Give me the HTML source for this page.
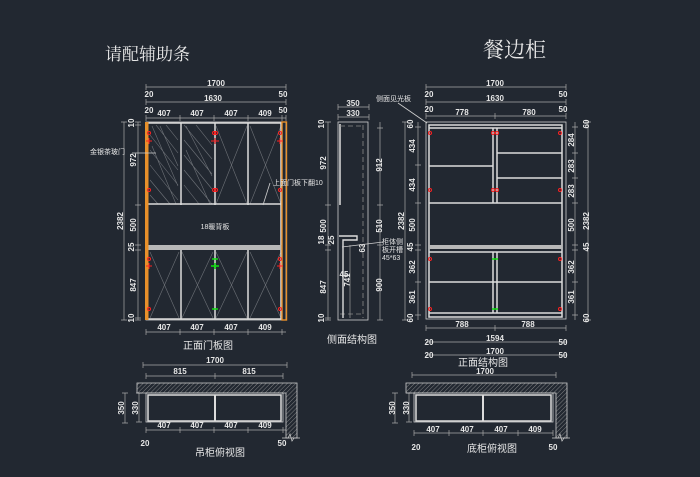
<!DOCTYPE html>
<html><head><meta charset="utf-8"><style>
html,body{margin:0;padding:0;background:#222831;}
svg{display:block}
text{font-family:"Liberation Sans","Noto Sans CJK SC",sans-serif;fill:#e6e6e6}
.d{font-size:8px;font-weight:bold}
.c{font-size:7px;font-family:"Liberation Sans","Noto Sans CJK SC",sans-serif}
.t{font-size:10px}
.dl{stroke:#a8a8a8;stroke-width:0.7;fill:none}
.w{stroke:#dcdcdc;stroke-width:1.5;fill:none}
.wt{stroke:#cfcfcf;stroke-width:0.8;fill:none}
.g{stroke:#6e7278;stroke-width:0.6;fill:none}
.r{stroke:#ff2020;stroke-width:1;fill:none}
.gr{stroke:#10e010;stroke-width:1.5;fill:none}
</style></head><body>
<svg width="700" height="477" viewBox="0 0 700 477" xmlns="http://www.w3.org/2000/svg">
<defs>
<pattern id="h" width="3" height="3" patternUnits="userSpaceOnUse" patternTransform="rotate(45)">
<line x1="0" y1="0" x2="0" y2="3" stroke="#9a9a9a" stroke-width="0.8"/></pattern>
</defs>
<!-- titles -->
<text x="105" y="60" style="font-size:17px;font-family:'Noto Serif CJK SC','Noto Sans CJK SC',serif" fill="#e0e0e0">请配辅助条</text>
<text x="483" y="57" style="font-size:21px;font-family:'Noto Serif CJK SC','Noto Sans CJK SC',serif" fill="#e0e0e0">餐边柜</text>

<!-- ===== LEFT: front door view ===== -->
<g class="dl">
<line x1="146" y1="118" x2="286" y2="118"/>
<line x1="146" y1="87" x2="286" y2="87"/><line x1="146" y1="102" x2="286" y2="102"/>
<line x1="146" y1="332" x2="286" y2="332"/>
<line x1="124" y1="122" x2="124" y2="320"/><line x1="138" y1="122" x2="138" y2="320"/>
<path d="M146 84v6M286 84v6M146 99v6M286 99v6M146 115v6M180 115v6M214 115v6M248 115v6M282 115v6M286 115v6M146 329v6M180 329v6M214 329v6M248 329v6M282 329v6M121 122h6M121 320h6M135 122h6M135 125h6M135 205h6M135 245h6M135 250h6M135 318h6M135 320h6"/>
</g>
<g class="d" text-anchor="middle">
<text x="216" y="86">1700</text><text x="149" y="97">20</text><text x="283" y="97">50</text>
<text x="213" y="101">1630</text><text x="149" y="113">20</text><text x="283" y="113">50</text>
<text x="164" y="116">407</text><text x="197" y="116">407</text><text x="231" y="116">407</text><text x="265" y="116">409</text>
<text x="164" y="330">407</text><text x="197" y="330">407</text><text x="231" y="330">407</text><text x="265" y="330">409</text>
<text transform="translate(123,221) rotate(-90)">2382</text>
<text transform="translate(134,123) rotate(-90)">10</text>
<text transform="translate(136,160) rotate(-90)">972</text>
<text transform="translate(136,225) rotate(-90)">500</text>
<text transform="translate(134,247) rotate(-90)">25</text>
<text transform="translate(136,285) rotate(-90)">847</text>
<text transform="translate(134,318) rotate(-90)">10</text>
</g>
<!-- hatch on left 2 doors -->
<g class="g">
<path d="M150 135l28 35M150 150l28 35M150 165l28 35M156 125l22 28M166 125l12 15M150 180l20 24M150 195l8 9M184 125l28 34M184 140l28 34M184 155l28 34M184 170l28 34M196 125l16 20M184 185l15 19M152 126l26 60M160 126l18 40M152 146l24 58M186 126l26 50M186 150l24 54"/>
<path d="M216 126l31 78M247 126l-31 78M250 126l31 78M281 126l-31 78M150 252l29 66M179 252l-29 66M182 252l31 66M213 252l-31 66M216 252l31 66M247 252l-31 66M250 252l31 66M281 252l-31 66"/>
</g>
<rect x="146" y="122" width="140" height="198" class="wt"/>
<g class="w">
<line x1="147" y1="123" x2="282" y2="123"/><line x1="147" y1="319" x2="282" y2="319"/>
<line x1="181" y1="123" x2="181" y2="205"/><line x1="215" y1="123" x2="215" y2="205"/><line x1="248" y1="123" x2="248" y2="205"/>
<line x1="181" y1="250" x2="181" y2="319"/><line x1="215" y1="250" x2="215" y2="319"/><line x1="248" y1="250" x2="248" y2="319"/>
<line x1="147" y1="204" x2="282" y2="204"/>
<line x1="281" y1="123" x2="281" y2="319"/>
</g>
<rect x="147" y="245" width="135" height="5" fill="#b8b8b8"/>
<rect x="145" y="122" width="3.5" height="198" fill="#e8902a"/>
<rect x="282" y="122" width="4.5" height="198" fill="none" stroke="#e8902a" stroke-width="1.4"/>
<g class="r">
<circle cx="149" cy="133" r="1.5"/><circle cx="149" cy="190" r="1.5"/><circle cx="149" cy="259" r="1.5"/><circle cx="149" cy="309" r="1.5"/>
<circle cx="280" cy="133" r="1.5"/><circle cx="280" cy="190" r="1.5"/><circle cx="280" cy="259" r="1.5"/><circle cx="280" cy="309" r="1.5"/>
<circle cx="214" cy="133" r="1.5"/><circle cx="216" cy="133" r="1.5"/><circle cx="214" cy="190" r="1.5"/><circle cx="216" cy="190" r="1.5"/>
<path d="M146 141h6M149 138v6M211 141h8M215 138v6M277 141h6M280 138v6M146 266h6M149 263v6M277 266h6M280 263v6"/>
</g>
<g class="gr"><path d="M212 259h6M211 266h8M215 263v6M212 309h6"/></g>
<line x1="132" y1="153" x2="156" y2="153" stroke="#d0d0d0" stroke-width="0.8"/>
<text x="90" y="154" class="c">金银茶玻门</text>
<line x1="270" y1="183" x2="263" y2="205" stroke="#d0d0d0" stroke-width="0.8"/>
<text x="273" y="185" class="c">上面门板下翻10</text>
<text x="215" y="229" class="c" text-anchor="middle">18暖背板</text>
<text x="208" y="349" class="t" text-anchor="middle">正面门板图</text>

<!-- ===== SIDE VIEW ===== -->
<g class="dl">
<line x1="338" y1="107" x2="369" y2="107"/><line x1="338" y1="117" x2="369" y2="117"/>
<line x1="328" y1="122" x2="328" y2="320"/><line x1="380" y1="122" x2="380" y2="320"/>
<path d="M338 104v6M369 104v6M338 114v6M369 114v6M325 122h6M325 320h6M325 205h6M325 245h6M325 250h6M325 318h6M377 128h6M377 205h6M377 245h6M377 320h6"/>
</g>
<rect x="338" y="122" width="30" height="198" class="wt"/>
<line x1="340" y1="124" x2="340" y2="205" stroke="#dcdcdc" stroke-width="1.5"/>
<line x1="363" y1="125" x2="363" y2="318" stroke="#8a8a8a" stroke-width="0.8" stroke-dasharray="5 3"/>
<line x1="340" y1="126" x2="363" y2="126" stroke="#8a8a8a" stroke-width="0.8" stroke-dasharray="5 3"/>
<line x1="340" y1="314" x2="363" y2="314" stroke="#8a8a8a" stroke-width="0.8" stroke-dasharray="5 3"/>
<path d="M339 236h18v4h-14v78" stroke="#dcdcdc" stroke-width="1.4" fill="none"/>
<line x1="350" y1="245" x2="350" y2="318" stroke="#9a9a9a" stroke-width="0.7"/>
<g class="d" text-anchor="middle">
<text x="353" y="106">350</text><text x="353" y="116">330</text>
<text transform="translate(324,124) rotate(-90)">10</text>
<text transform="translate(326,163) rotate(-90)">972</text>
<text transform="translate(326,226) rotate(-90)">500</text>
<text transform="translate(324,240) rotate(-90)">18</text>
<text transform="translate(334,240) rotate(-90)">25</text>
<text transform="translate(326,287) rotate(-90)">847</text>
<text transform="translate(324,318) rotate(-90)">10</text>
<text transform="translate(382,165) rotate(-90)">912</text>
<text transform="translate(382,226) rotate(-90)">510</text>
<text transform="translate(382,285) rotate(-90)">900</text>
<text transform="translate(365,248) rotate(-90)">63</text>
<text transform="translate(350,280) rotate(-90)">741</text>
<text x="344" y="277">45</text>
</g>
<line x1="342" y1="247" x2="383" y2="242" stroke="#d0d0d0" stroke-width="0.8"/>
<text x="382" y="244" class="c">柜体侧</text><text x="382" y="252" class="c">板开槽</text><text x="382" y="260" class="c">45*63</text>
<text x="352" y="343" class="t" text-anchor="middle">侧面结构图</text>

<!-- ===== RIGHT: front structure ===== -->
<g class="dl">
<line x1="426" y1="87" x2="566" y2="87"/><line x1="426" y1="102" x2="566" y2="102"/><line x1="426" y1="116" x2="566" y2="116"/>
<line x1="426" y1="328" x2="566" y2="328"/><line x1="426" y1="342" x2="566" y2="342"/><line x1="426" y1="355" x2="566" y2="355"/>
<line x1="405" y1="122" x2="405" y2="320"/><line x1="418" y1="122" x2="418" y2="320"/>
<line x1="575" y1="122" x2="575" y2="320"/><line x1="588" y1="122" x2="588" y2="320"/>
<path d="M426 84v6M566 84v6M426 99v6M566 99v6M426 113v6M495 113v6M566 113v6M426 325v6M495 325v6M566 325v6M402 122h6M402 320h6M415 127h6M415 165h6M415 203h6M415 245h6M415 250h6M415 282h6M415 315h6M572 127h6M572 153h6M572 178h6M572 203h6M572 245h6M572 250h6M572 282h6M572 315h6M585 122h6M585 320h6"/>
</g>
<rect x="426" y="122" width="140" height="197" class="wt"/>
<g class="w">
<rect x="429" y="125" width="133" height="192"/>
<line x1="429" y1="128" x2="562" y2="128"/>
<line x1="493" y1="128" x2="493" y2="203"/><line x1="497" y1="128" x2="497" y2="203"/>
<line x1="429" y1="203" x2="562" y2="203"/>
<line x1="429" y1="166" x2="493" y2="166"/>
<line x1="497" y1="153" x2="562" y2="153"/><line x1="497" y1="178" x2="562" y2="178"/>
<line x1="429" y1="252" x2="562" y2="252"/>
<line x1="493" y1="252" x2="493" y2="313"/><line x1="497" y1="252" x2="497" y2="313"/>
<line x1="429" y1="282" x2="562" y2="282"/>
<line x1="429" y1="313" x2="562" y2="313"/>
</g>
<rect x="429" y="245" width="133" height="4" fill="#b8b8b8"/>
<g class="r">
<circle cx="430" cy="133" r="1.5"/><circle cx="430" cy="190" r="1.5"/><circle cx="430" cy="259" r="1.5"/><circle cx="430" cy="309" r="1.5"/>
<circle cx="560" cy="133" r="1.5"/><circle cx="560" cy="190" r="1.5"/><circle cx="560" cy="259" r="1.5"/><circle cx="560" cy="309" r="1.5"/>
<circle cx="493" cy="133" r="1.5"/><circle cx="497" cy="133" r="1.5"/><circle cx="493" cy="190" r="1.5"/><circle cx="497" cy="190" r="1.5"/>
</g>
<g class="gr"><path d="M492 259h6M492 309h6"/></g>
<line x1="398" y1="103" x2="427" y2="123" stroke="#d0d0d0" stroke-width="0.8"/>
<text x="376" y="101" class="c">侧面见光板</text>
<g class="d" text-anchor="middle">
<text x="495" y="86">1700</text><text x="429" y="97">20</text><text x="563" y="97">50</text>
<text x="495" y="101">1630</text><text x="429" y="112">20</text><text x="563" y="112">50</text>
<text x="462" y="115">778</text><text x="529" y="115">780</text>
<text x="462" y="327">788</text><text x="528" y="327">788</text>
<text x="495" y="341">1594</text><text x="429" y="345">20</text><text x="563" y="345">50</text>
<text x="495" y="354">1700</text><text x="429" y="358">20</text><text x="563" y="358">50</text>
<text transform="translate(404,221) rotate(-90)">2382</text>
<text transform="translate(413,124) rotate(-90)">60</text>
<text transform="translate(415,146) rotate(-90)">434</text>
<text transform="translate(415,185) rotate(-90)">434</text>
<text transform="translate(415,225) rotate(-90)">500</text>
<text transform="translate(413,247) rotate(-90)">45</text>
<text transform="translate(415,267) rotate(-90)">362</text>
<text transform="translate(415,297) rotate(-90)">361</text>
<text transform="translate(413,318) rotate(-90)">60</text>
<text transform="translate(574,140) rotate(-90)">284</text>
<text transform="translate(574,166) rotate(-90)">283</text>
<text transform="translate(574,191) rotate(-90)">283</text>
<text transform="translate(574,225) rotate(-90)">500</text>
<text transform="translate(574,267) rotate(-90)">362</text>
<text transform="translate(574,297) rotate(-90)">361</text>
<text transform="translate(589,221) rotate(-90)">2382</text>
<text transform="translate(589,124) rotate(-90)">60</text>
<text transform="translate(589,247) rotate(-90)">45</text>
<text transform="translate(589,318) rotate(-90)">60</text>
</g>
<text x="483" y="366" class="t" text-anchor="middle">正面结构图</text>

<!-- ===== hanging cabinet top view ===== -->
<g class="dl">
<line x1="143" y1="365" x2="287" y2="365"/><line x1="146" y1="376" x2="283" y2="376"/>
<line x1="146" y1="430" x2="286" y2="430"/>
<line x1="125" y1="393" x2="125" y2="423"/><line x1="139" y1="393" x2="139" y2="422"/>
<path d="M143 362v6M287 362v6M146 373v6M215 373v6M283 373v6M146 427v6M180 427v6M214 427v6M248 427v6M283 427v6M122 393h6M122 423h6M136 393h6M136 422h6"/>
</g>
<path d="M137 383h160v55h-11v-45h-149z" fill="url(#h)" stroke="#cfcfcf" stroke-width="0.8"/>
<path d="M282 438h6l2 -4 2 7 2 -3h6" stroke="#cfcfcf" stroke-width="0.7" fill="none"/>
<rect x="146" y="393" width="137" height="29" class="wt"/>
<rect x="148" y="395" width="133" height="26" class="w"/>
<line x1="215" y1="395" x2="215" y2="421" stroke="#dcdcdc" stroke-width="2"/>
<g class="d" text-anchor="middle">
<text x="215" y="363">1700</text><text x="180" y="374">815</text><text x="249" y="374">815</text>
<text x="164" y="428">407</text><text x="197" y="428">407</text><text x="231" y="428">407</text><text x="265" y="428">409</text>
<text x="145" y="446">20</text><text x="282" y="446">50</text>
<text transform="translate(124,408) rotate(-90)">350</text>
<text transform="translate(138,408) rotate(-90)">330</text>
</g>
<text x="220" y="456" class="t" text-anchor="middle">吊柜俯视图</text>

<!-- ===== base cabinet top view ===== -->
<g class="dl">
<line x1="412" y1="375" x2="556" y2="375"/>
<line x1="414" y1="433" x2="553" y2="433"/>
<line x1="395" y1="393" x2="395" y2="423"/><line x1="409" y1="393" x2="409" y2="422"/>
<path d="M412 372v6M556 372v6M414 430v6M449 430v6M483 430v6M518 430v6M553 430v6M392 393h6M392 423h6M406 393h6M406 422h6"/>
</g>
<path d="M406 383h161v55h-11v-45h-150z" fill="url(#h)" stroke="#cfcfcf" stroke-width="0.8"/>
<path d="M552 438h6l2 -4 2 7 2 -3h6" stroke="#cfcfcf" stroke-width="0.7" fill="none"/>
<rect x="414" y="393" width="139" height="29" class="wt"/>
<rect x="416" y="395" width="135" height="26" class="w"/>
<line x1="483" y1="395" x2="483" y2="421" stroke="#dcdcdc" stroke-width="2"/>
<g class="d" text-anchor="middle">
<text x="485" y="374">1700</text>
<text x="433" y="432">407</text><text x="467" y="432">407</text><text x="501" y="432">407</text><text x="535" y="432">409</text>
<text x="416" y="450">20</text><text x="553" y="450">50</text>
<text transform="translate(395,408) rotate(-90)">350</text>
<text transform="translate(409,408) rotate(-90)">330</text>
</g>
<text x="492" y="452" class="t" text-anchor="middle">底柜俯视图</text>
</svg>
</body></html>
